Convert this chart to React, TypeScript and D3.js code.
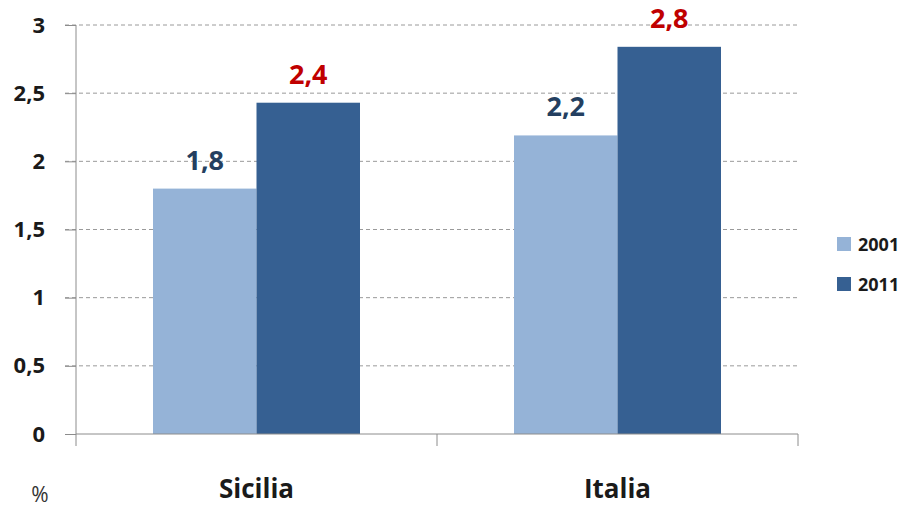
import React, { useEffect, useRef } from "react";
import { select, scaleBand, scaleLinear, axisLeft, axisBottom } from "d3";

const categories: string[] = ["Sicilia", "Italia"];
const seriesNames: string[] = ["2001", "2011"];
const values2001: number[] = [1.8, 2.19];
const values2011: number[] = [2.43, 2.84];
const yTicks: number[] = [0, 0.5, 1, 1.5, 2, 2.5, 3];

const COLORS = ["#95B3D7", "#366092"];
const LABEL_COLORS = ["#243F60", "#C00000"];
const FONT = "'Open Sans', 'DejaVu Sans', sans-serif";

const fmt = (d: number, digits?: number) =>
  (digits === undefined ? String(d) : d.toFixed(digits)).replace(".", ",");

const App: React.FC = () => {
  const svgRef = useRef<SVGSVGElement>(null);
  const WIDTH = 912;
  const HEIGHT = 509;
  const margin = { left: 76, right: 114, top: 25, bottom: 75 };

  useEffect(() => {
    const svg = select(svgRef.current);
    svg.selectAll("*").remove();

    const x = scaleBand()
      .domain(categories)
      .range([margin.left, WIDTH - margin.right]);
    const inner = scaleBand()
      .domain(seriesNames)
      .range([0, x.bandwidth()])
      .paddingOuter(0.744)
      .paddingInner(0);
    const y = scaleLinear()
      .domain([0, 3])
      .range([HEIGHT - margin.bottom, margin.top]);

    // gridlines
    svg
      .append("g")
      .selectAll("line")
      .data(yTicks.filter((t) => t > 0))
      .join("line")
      .attr("x1", margin.left - 11)
      .attr("x2", WIDTH - margin.right)
      .attr("y1", (d) => y(d))
      .attr("y2", (d) => y(d))
      .attr("stroke", "#9a9a9a")
      .attr("stroke-width", 1)
      .attr("stroke-dasharray", "4,3");

    const series = [values2001, values2011];
    series.forEach((vals, si) => {
      svg
        .append("g")
        .selectAll("rect")
        .data(vals)
        .join("rect")
        .attr("x", (_d, i) => (x(categories[i]) as number) + (inner(seriesNames[si]) as number))
        .attr("width", inner.bandwidth())
        .attr("y", (d) => y(d))
        .attr("height", (d) => y(0) - y(d))
        .attr("fill", COLORS[si]);
      svg
        .append("g")
        .selectAll("text")
        .data(vals)
        .join("text")
        .attr(
          "x",
          (_d, i) =>
            (x(categories[i]) as number) + (inner(seriesNames[si]) as number) + inner.bandwidth() / 2
        )
        .attr("y", (d) => y(d) - 19)
        .attr("text-anchor", "middle")
        .attr("font-family", FONT)
        .attr("font-weight", "bold")
        .attr("font-size", 27)
        .attr("fill", LABEL_COLORS[si])
        .text((d) => fmt(d, 1));
    });

    // y axis
    const yAxis = svg
      .append("g")
      .attr("transform", `translate(${margin.left},0)`)
      .call(
        axisLeft(y)
          .tickValues(yTicks)
          .tickSize(11)
          .tickPadding(20)
          .tickFormat((d) => fmt(d as number))
      );
    yAxis.select(".domain").attr("stroke", "#8c8c8c").attr("d", `M0,${y(3)}V${y(0) + 12}`);
    yAxis.selectAll(".tick line").attr("stroke", "#8c8c8c");
    yAxis
      .selectAll(".tick text")
      .attr("font-family", FONT)
      .attr("font-weight", "bold")
      .attr("font-size", 22)
      .attr("fill", "#1a1a1a");

    // x axis
    const xAxis = svg
      .append("g")
      .attr("transform", `translate(0,${y(0)})`)
      .call(axisBottom(x).tickSize(0).tickPadding(0).tickFormat(() => ""));
    xAxis.select(".domain").attr("stroke", "#8c8c8c").attr("d", `M${margin.left},0H${WIDTH - margin.right}`);
    xAxis.selectAll(".tick").remove();
    const boundaries = [x.range()[0] + x.bandwidth(), x.range()[1]];
    xAxis
      .selectAll("line.sep")
      .data(boundaries)
      .join("line")
      .attr("class", "sep")
      .attr("x1", (d) => d)
      .attr("x2", (d) => d)
      .attr("y1", 0)
      .attr("y2", 12)
      .attr("stroke", "#8c8c8c");

    svg
      .append("g")
      .selectAll("text")
      .data(categories)
      .join("text")
      .attr("x", (d) => (x(d) as number) + x.bandwidth() / 2)
      .attr("y", 498)
      .attr("text-anchor", "middle")
      .attr("font-family", FONT)
      .attr("font-weight", "bold")
      .attr("font-size", 26)
      .attr("fill", "#1a1a1a")
      .text((d) => d);

    svg
      .append("text")
      .attr("x", 40)
      .attr("y", 502)
      .attr("text-anchor", "middle")
      .attr("font-family", FONT)
      .attr("font-size", 21)
      .attr("fill", "#333")
      .text("%");

    // legend
    const legend = svg
      .append("g")
      .selectAll("g")
      .data(seriesNames)
      .join("g")
      .attr("transform", (_d, i) => `translate(837,${237 + i * 40})`);
    legend
      .append("rect")
      .attr("width", 14)
      .attr("height", 14)
      .attr("fill", (_d, i) => COLORS[i]);
    legend
      .append("text")
      .attr("x", 21)
      .attr("y", 14)
      .attr("font-family", FONT)
      .attr("font-weight", "bold")
      .attr("font-size", 18)
      .attr("fill", "#1a1a1a")
      .text((d) => d);
  }, []);

  return (
    <svg
      ref={svgRef}
      width={WIDTH}
      height={HEIGHT}
      style={{ position: "absolute", left: 0, top: 0, background: "white" }}
    />
  );
};

export default App;
